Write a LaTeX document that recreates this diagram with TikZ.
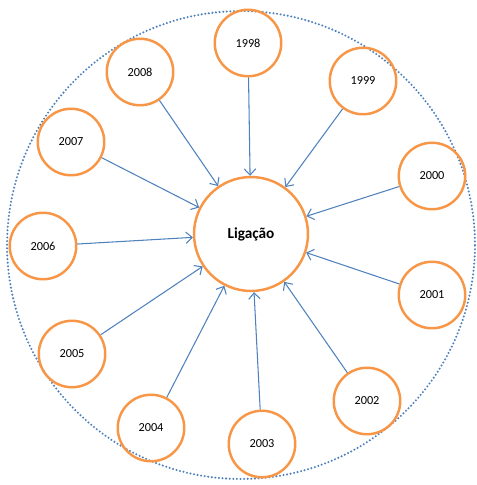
\documentclass[tikz,border=0pt]{standalone}
\usepackage{fontspec}
\setmainfont{Carlito}
\usetikzlibrary{arrows.meta}
\definecolor{ano}{RGB}{247,150,70}
\definecolor{seta}{RGB}{79,129,189}
\begin{document}
\begin{tikzpicture}[x=0.02cm,y=-0.02cm,
		ano/.style={circle,draw=ano,line width=1.4pt,minimum size=1.33cm,inner sep=0pt,font=\fontsize{7}{8}\selectfont},
		seta/.style={draw=seta,line width=0.6pt,-{Straight Barb[length=3.5pt,width=6.5pt]}}]
		\useasboundingbox (0,0) rectangle (477,485);
		\draw[seta,line width=1.3pt,dash pattern=on 0pt off 2.05pt,line cap=round] (241,245) circle [radius=4.68cm];
		\node[ano,minimum size=2.28cm,font=\bfseries\fontsize{8.7}{10}\selectfont] (lig) at(251,234) {Ligação};
		\node[ano] (y1998) at(248,43) {1998};
		\node[ano] (y1999) at(363,81) {1999};
		\node[ano] (y2000) at(432,176) {2000};
		\node[ano] (y2001) at(432,295) {2001};
		\node[ano] (y2002) at(367,401) {2002};
		\node[ano] (y2003) at(262,444) {2003};
		\node[ano] (y2004) at(151,428) {2004};
		\node[ano] (y2005) at(72,354) {2005};
		\node[ano] (y2006) at(43,246) {2006};
		\node[ano] (y2007) at(71,142) {2007};
		\node[ano] (y2008) at(140,72) {2008};
		\foreach \y in {1998,1999,2000,2001,2002,2003,2004,2005,2006,2007,2008}
			\draw[seta] (y\y) -- (lig);
	\end{tikzpicture}
\end{document}
